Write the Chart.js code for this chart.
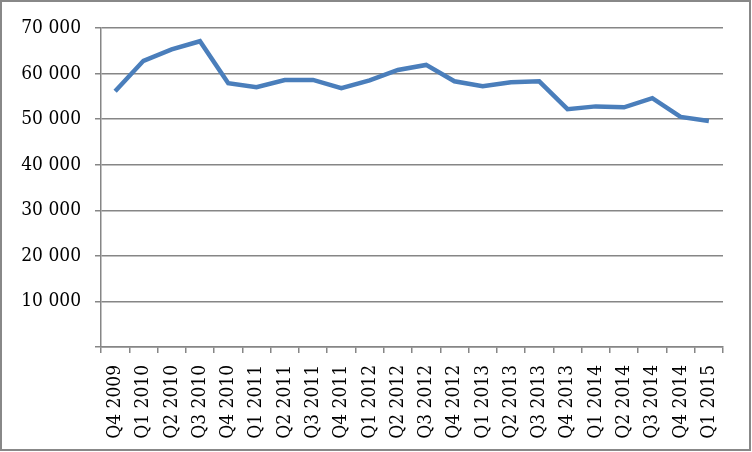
<!DOCTYPE html>
<html>
<head>
<meta charset="utf-8">
<script src="https://cdn.jsdelivr.net/npm/chart.js@4"></script>
<style>
  html, body { margin: 0; padding: 0; background: #fff; }
  #wrap { width: 752px; height: 452px; }
</style>
</head>
<body>
<div id="wrap"><canvas id="myChart" width="752" height="452"></canvas></div>
<script>
const kwartaly = [
  "Q4 2009", "Q1 2010", "Q2 2010", "Q3 2010", "Q4 2010", "Q1 2011",
  "Q2 2011", "Q3 2011", "Q4 2011", "Q1 2012", "Q2 2012", "Q3 2012",
  "Q4 2012", "Q1 2013", "Q2 2013", "Q3 2013", "Q4 2013", "Q1 2014",
  "Q2 2014", "Q3 2014", "Q4 2014", "Q1 2015"
];
const wartosci = [
  56100, 62800, 65300, 67100, 57900, 57000,
  58600, 58600, 56800, 58500, 60800, 61900,
  58300, 57200, 58100, 58300, 52200, 52800,
  52600, 54600, 50500, 49600
];
const yMin = 0;
const yMax = 70000;
const yKrok = 10000;

const fontLbl = "'DejaVu Serif Condensed', 'DejaVu Serif', serif";

// ramka dookola calego wykresu
const ramka = {
  id: "ramka",
  afterDraw(chart) {
    const ctx = chart.ctx;
    ctx.save();
    ctx.strokeStyle = "#888888";
    ctx.lineWidth = 2;
    ctx.strokeRect(1, 1, 749, 449);
    ctx.restore();
  }
};

function formatuj(v) {
  if (v === 0) return "";
  return String(v).replace(/\B(?=(\d{3})+(?!\d))/g, " ");
}

const ctx = document.getElementById("myChart");
new Chart(ctx, {
  type: "line",
  data: {
    labels: kwartaly,
    datasets: [
      {
        data: wartosci,
        borderColor: "#4a7ebb",
        borderWidth: 4.5,
        pointRadius: 0,
        tension: 0,
        fill: false
      }
    ]
  },
  options: {
    responsive: false,
    animation: false,
    layout: { padding: { top: 28, right: 29, left: 0, bottom: 0 } },
    plugins: {
      legend: { display: false },
      tooltip: { enabled: false }
    },
    scales: {
      x: {
        offset: true,
        grid: {
          offset: true,
          drawOnChartArea: false,
          drawTicks: true,
          tickLength: 6,
          color: "#868686",
          lineWidth: 1.5
        },
        border: { color: "#868686", width: 1.5 },
        ticks: {
          minRotation: 90,
          maxRotation: 90,
          autoSkip: false,
          padding: 12,
          color: "#000",
          font: { family: fontLbl, size: 19 }
        },
        afterFit(scale) { scale.height = 105; }
      },
      y: {
        min: yMin,
        max: yMax,
        grid: {
          color: "#868686",
          lineWidth: 1.5,
          tickLength: 6
        },
        border: { color: "#868686", width: 1.5 },
        ticks: {
          stepSize: yKrok,
          padding: 14,
          color: "#000",
          font: { family: fontLbl, size: 19 },
          callback: (v) => formatuj(v)
        },
        afterFit(scale) { scale.width = 101; }
      }
    }
  },
  plugins: [ramka]
});
</script>
</body>
</html>
